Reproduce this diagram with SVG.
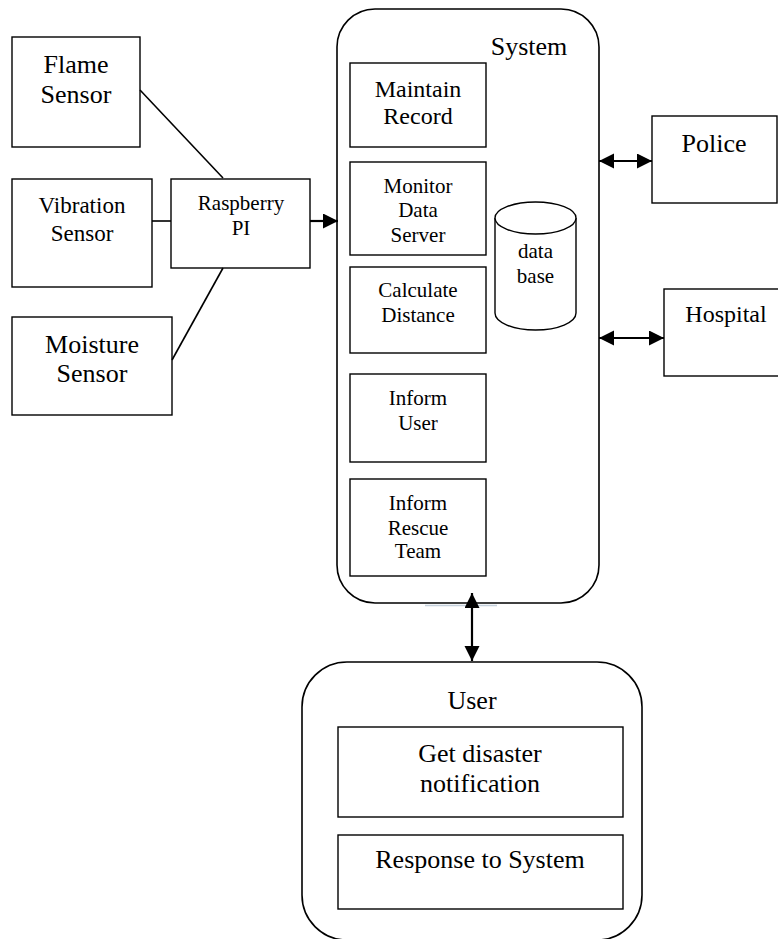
<svg xmlns="http://www.w3.org/2000/svg" width="778" height="939" viewBox="0 0 778 939">
<style>
.box{fill:#fff;stroke:#000;stroke-width:1.4}
.cont{fill:#fff;stroke:#000;stroke-width:1.6}
.ln{stroke:#000;stroke-width:1.6;fill:none}
.ar{stroke:#000;stroke-width:2.2;fill:none}
text{font-family:"Liberation Serif","Times New Roman",serif;fill:#000;text-anchor:middle}
.t26{font-size:26px}.t24{font-size:24px}.t23{font-size:23px}.t21{font-size:21px}
</style>
<defs>
<marker id="ah" markerUnits="userSpaceOnUse" markerWidth="16" markerHeight="16" refX="15" refY="7.5" orient="auto-start-reverse" viewBox="0 0 16 16">
<path d="M0,0 L15,7.5 L0,15 z" fill="#000"/>
</marker>
</defs>
<rect width="778" height="939" fill="#fff"/>
<g id="system">
<rect class="cont" x="337" y="9" width="262" height="594" rx="38"/>
<text class="t26" x="529" y="55">System</text>
</g>
<g id="user">
<rect class="cont" x="302" y="662" width="340" height="278" rx="45"/>
<text class="t26" x="472" y="709">User</text>
</g>
<g id="flame-sensor">
<rect class="box" x="12" y="37" width="128" height="110"/>
<text class="t26" x="76" y="73">Flame</text>
<text class="t26" x="76" y="103">Sensor</text>
</g>
<g id="vibration-sensor">
<rect class="box" x="12" y="179" width="140" height="108"/>
<text class="t23" x="82" y="213">Vibration</text>
<text class="t23" x="82" y="241">Sensor</text>
</g>
<g id="moisture-sensor">
<rect class="box" x="12" y="317" width="160" height="98"/>
<text class="t26" x="92" y="353">Moisture</text>
<text class="t26" x="92" y="382">Sensor</text>
</g>
<g id="raspberry-pi">
<rect class="box" x="171" y="179" width="139" height="89"/>
<text class="t21" x="241" y="210">Raspberry</text>
<text class="t21" x="241" y="235">PI</text>
</g>
<g id="maintain-record">
<rect class="box" x="350" y="63" width="136" height="84"/>
<text class="t24" x="418" y="97">Maintain</text>
<text class="t24" x="418" y="124">Record</text>
</g>
<g id="monitor-data-server">
<rect class="box" x="350" y="162" width="136" height="93"/>
<text class="t21" x="418" y="193">Monitor</text>
<text class="t21" x="418" y="217">Data</text>
<text class="t21" x="418" y="242">Server</text>
</g>
<g id="calculate-distance">
<rect class="box" x="350" y="267" width="136" height="86"/>
<text class="t21" x="418" y="297">Calculate</text>
<text class="t21" x="418" y="322">Distance</text>
</g>
<g id="inform-user">
<rect class="box" x="350" y="374" width="136" height="88"/>
<text class="t21" x="418" y="405">Inform</text>
<text class="t21" x="418" y="430">User</text>
</g>
<g id="inform-rescue-team">
<rect class="box" x="350" y="479" width="136" height="97"/>
<text class="t21" x="418" y="510">Inform</text>
<text class="t21" x="418" y="535">Rescue</text>
<text class="t21" x="418" y="558">Team</text>
</g>
<g id="database">
<path class="box" d="M495,218 L495,313 A40.5,17 0 0 0 576,313 L576,218"/>
<ellipse class="box" cx="535.5" cy="218" rx="40.5" ry="16"/>
<text class="t21" x="535.5" y="258">data</text>
<text class="t21" x="535.5" y="283">base</text>
</g>
<g id="police">
<rect class="box" x="652" y="116" width="125" height="87"/>
<text class="t26" x="714" y="152">Police</text>
</g>
<g id="hospital">
<rect class="box" x="664" y="289" width="126" height="87"/>
<text class="t24" x="726" y="322">Hospital</text>
</g>
<g id="get-disaster-notification">
<rect class="box" x="338" y="727" width="285" height="90"/>
<text class="t26" x="480" y="762">Get disaster</text>
<text class="t26" x="480" y="792">notification</text>
</g>
<g id="response-to-system">
<rect class="box" x="338" y="835" width="285" height="74"/>
<text class="t26" x="480" y="868">Response to System</text>
</g>
<g id="connectors">
<line class="ln" x1="140" y1="90" x2="223" y2="178"/>
<line class="ln" x1="152" y1="221" x2="171" y2="221"/>
<line class="ln" x1="172" y1="360" x2="223" y2="268"/>
<line class="ar" x1="310" y1="221" x2="338" y2="221" marker-end="url(#ah)"/>
<line class="ar" x1="599" y1="161" x2="652" y2="161" marker-start="url(#ah)" marker-end="url(#ah)"/>
<line class="ar" x1="599" y1="338" x2="664" y2="338" marker-start="url(#ah)" marker-end="url(#ah)"/>
<line x1="425" y1="605.5" x2="497" y2="605.5" stroke="#c4d0dc" stroke-width="1.5"/>
<line class="ar" x1="472" y1="593" x2="472" y2="661" marker-start="url(#ah)" marker-end="url(#ah)"/>
</g>
</svg>
